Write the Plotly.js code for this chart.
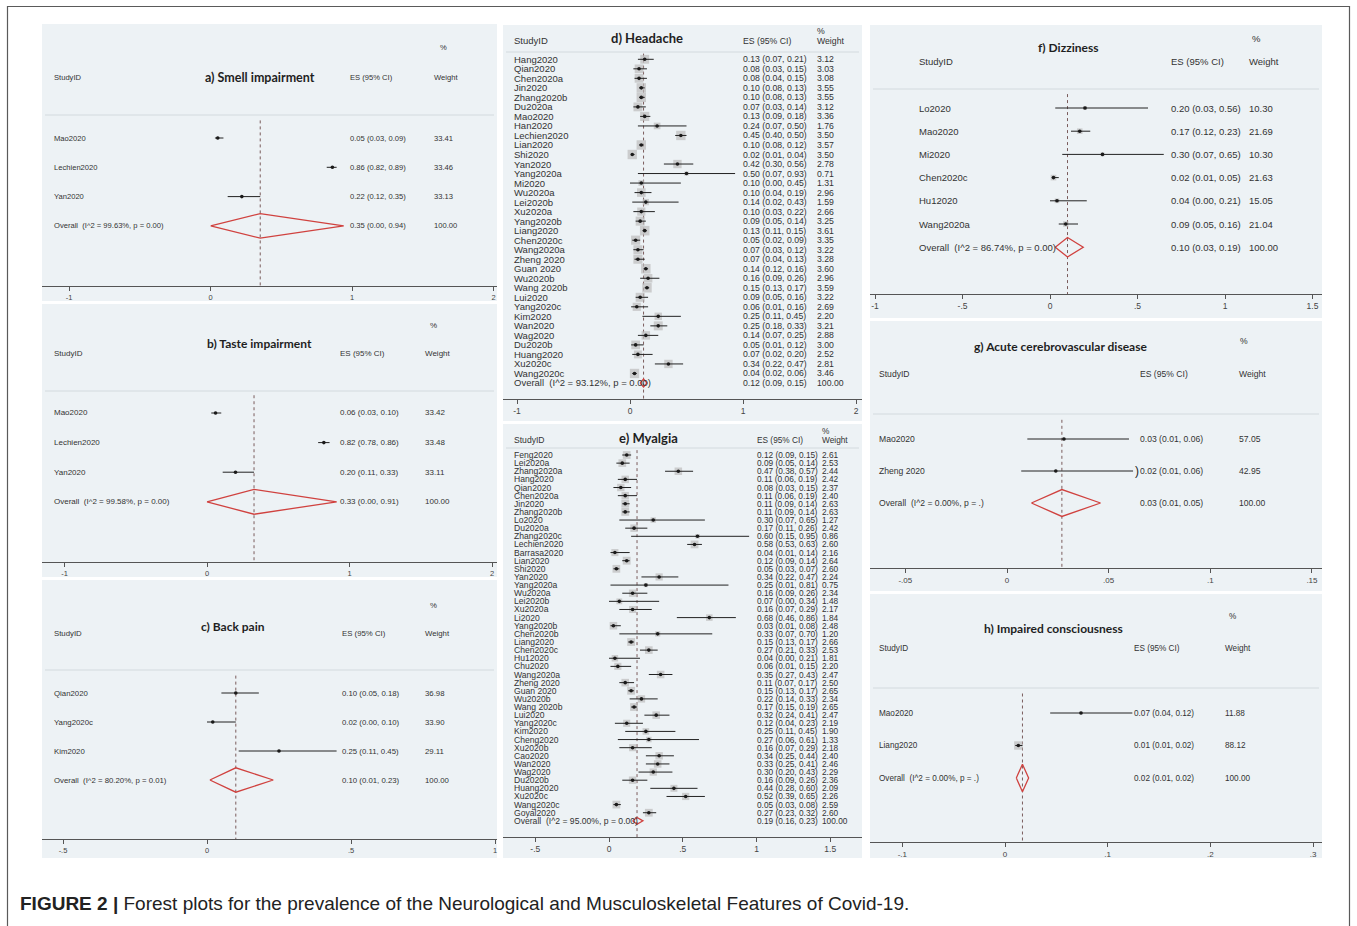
<!DOCTYPE html>
<html>
<head>
<meta charset="utf-8">
<script src="https://cdn.plot.ly/plotly-3.0.1.min.js"></script>
<style>html,body{margin:0;padding:0;background:#fff;}#chart{width:1357px;height:926px;}</style>
</head>
<body>
<div id="chart"></div>
<script>
// ---------------- DATA ----------------
// a) Smell impairment
const smellStudy = ["Mao2020", "Lechien2020", "Yan2020"];
const smellES = [0.05, 0.86, 0.22];
const smellLo = [0.03, 0.82, 0.12];
const smellHi = [0.09, 0.89, 0.35];
const smellWt = [33.41, 33.46, 33.13];
const smellOverall = [0.35, 0.00, 0.94];
const smellI2 = "99.63%", smellP = "0.00";

// b) Taste impairment
const tasteStudy = ["Mao2020", "Lechien2020", "Yan2020"];
const tasteES = [0.06, 0.82, 0.20];
const tasteLo = [0.03, 0.78, 0.11];
const tasteHi = [0.10, 0.86, 0.33];
const tasteWt = [33.42, 33.48, 33.11];
const tasteOverall = [0.33, 0.00, 0.91];
const tasteI2 = "99.58%", tasteP = "0.00";

// c) Back pain
const backStudy = ["Qian2020", "Yang2020c", "Kim2020"];
const backES = [0.10, 0.02, 0.25];
const backLo = [0.05, 0.00, 0.11];
const backHi = [0.18, 0.10, 0.45];
const backWt = [36.98, 33.90, 29.11];
const backOverall = [0.10, 0.01, 0.23];
const backI2 = "80.20%", backP = "0.01";

// d) Headache
const headStudy = ["Hang2020","Qian2020","Chen2020a","Jin2020","Zhang2020b","Du2020a","Mao2020","Han2020","Lechien2020","Lian2020","Shi2020","Yan2020","Yang2020a","Mi2020","Wu2020a","Lei2020b","Xu2020a","Yang2020b","Liang2020","Chen2020c","Wang2020a","Zheng 2020","Guan 2020","Wu2020b","Wang 2020b","Lui2020","Yang2020c","Kim2020","Wan2020","Wag2020","Du2020b","Huang2020","Xu2020c","Wang2020c"];
const headES = [0.13,0.08,0.08,0.10,0.10,0.07,0.13,0.24,0.45,0.10,0.02,0.42,0.50,0.10,0.10,0.14,0.10,0.09,0.13,0.05,0.07,0.07,0.14,0.16,0.15,0.09,0.06,0.25,0.25,0.14,0.05,0.07,0.34,0.04];
const headLo = [0.07,0.03,0.04,0.08,0.08,0.03,0.09,0.07,0.40,0.08,0.01,0.30,0.07,0.00,0.04,0.02,0.03,0.05,0.11,0.02,0.03,0.04,0.12,0.09,0.13,0.05,0.01,0.11,0.18,0.07,0.01,0.02,0.22,0.02];
const headHi = [0.21,0.15,0.15,0.13,0.13,0.14,0.18,0.50,0.50,0.12,0.04,0.56,0.93,0.45,0.19,0.43,0.22,0.14,0.15,0.09,0.12,0.13,0.16,0.26,0.17,0.16,0.16,0.45,0.33,0.25,0.12,0.20,0.47,0.06];
const headWt = [3.12,3.03,3.08,3.55,3.55,3.12,3.36,1.76,3.50,3.57,3.50,2.78,0.71,1.31,2.96,1.59,2.66,3.25,3.61,3.35,3.22,3.28,3.60,2.96,3.59,3.22,2.69,2.20,3.21,2.88,3.00,2.52,2.81,3.46];
const headOverall = [0.12, 0.09, 0.15];
const headI2 = "93.12%", headP = "0.00";

// e) Myalgia
const myalStudy = ["Feng2020","Lei2020a","Zhang2020a","Hang2020","Qian2020","Chen2020a","Jin2020","Zhang2020b","Lo2020","Du2020a","Zhang2020c","Lechien2020","Barrasa2020","Lian2020","Shi2020","Yan2020","Yang2020a","Wu2020a","Lei2020b","Xu2020a","Li2020","Yang2020b","Chen2020b","Liang2020","Chen2020c","Hu12020","Chu2020","Wang2020a","Zheng 2020","Guan 2020","Wu2020b","Wang 2020b","Lui2020","Yang2020c","Kim2020","Cheng2020","Xu2020b","Cao2020","Wan2020","Wag2020","Du2020b","Huang2020","Xu2020c","Wang2020c","Goyal2020"];
const myalES = [0.12,0.09,0.47,0.11,0.08,0.11,0.11,0.11,0.30,0.17,0.60,0.58,0.04,0.12,0.05,0.34,0.25,0.16,0.07,0.16,0.68,0.03,0.33,0.15,0.27,0.04,0.06,0.35,0.11,0.15,0.22,0.17,0.32,0.12,0.25,0.27,0.16,0.34,0.33,0.30,0.16,0.44,0.52,0.05,0.27];
const myalLo = [0.09,0.05,0.38,0.06,0.03,0.06,0.09,0.09,0.07,0.11,0.15,0.53,0.01,0.09,0.03,0.22,0.01,0.09,0.00,0.07,0.46,0.01,0.07,0.13,0.21,0.00,0.01,0.27,0.07,0.13,0.14,0.15,0.24,0.04,0.11,0.06,0.07,0.25,0.25,0.20,0.09,0.28,0.39,0.03,0.23];
const myalHi = [0.15,0.14,0.57,0.19,0.15,0.19,0.14,0.14,0.65,0.26,0.95,0.63,0.14,0.14,0.07,0.47,0.81,0.26,0.34,0.29,0.86,0.08,0.70,0.17,0.33,0.21,0.15,0.43,0.17,0.17,0.33,0.19,0.41,0.23,0.45,0.61,0.29,0.44,0.41,0.43,0.26,0.60,0.65,0.08,0.32];
const myalWt = [2.61,2.53,2.44,2.42,2.37,2.40,2.63,2.63,1.27,2.42,0.86,2.60,2.16,2.64,2.60,2.24,0.75,2.34,1.48,2.17,1.84,2.48,1.20,2.66,2.53,1.81,2.20,2.47,2.50,2.65,2.34,2.65,2.47,2.19,1.90,1.33,2.18,2.40,2.46,2.29,2.36,2.09,2.26,2.59,2.60];
const myalOverall = [0.19, 0.16, 0.23];
const myalI2 = "95.00%", myalP = "0.00";

// f) Dizziness
const dizzStudy = ["Lo2020", "Mao2020", "Mi2020", "Chen2020c", "Hu12020", "Wang2020a"];
const dizzES = [0.20, 0.17, 0.30, 0.02, 0.04, 0.09];
const dizzLo = [0.03, 0.12, 0.07, 0.01, 0.00, 0.05];
const dizzHi = [0.56, 0.23, 0.65, 0.05, 0.21, 0.16];
const dizzWt = [10.30, 21.69, 10.30, 21.63, 15.05, 21.04];
const dizzOverall = [0.10, 0.03, 0.19];
const dizzI2 = "86.74%", dizzP = "0.00";

// g) Acute cerebrovascular disease
const cereStudy = ["Mao2020", "Zheng 2020"];
const cereES = [0.028, 0.024];
const cereLo = [0.010, 0.007];
const cereHi = [0.060, 0.062];
const cereWt = [57.05, 42.95];
const cereOverall = [0.027, 0.012, 0.046];
const cereI2 = "0.00%", cereP = ".";

// h) Impaired consciousness
const consStudy = ["Mao2020", "Liang2020"];
const consES = [0.074, 0.013];
const consLo = [0.044, 0.010];
const consHi = [0.124, 0.017];
const consWt = [11.88, 88.12];
const consOverall = [0.017, 0.011, 0.023];
const consI2 = "0.00%", consP = ".";

// tick values / labels
const ticksA = [-1, 0, 1, 2], ticksAText = ["-1", "0", "1", "2"];
const ticksC = [-0.5, 0, 0.5, 1], ticksCText = ["-.5", "0", ".5", "1"];
const ticksE = [-0.5, 0, 0.5, 1, 1.5], ticksEText = ["-.5", "0", ".5", "1", "1.5"];
const ticksF = [-1, -0.5, 0, 0.5, 1, 1.5], ticksFText = ["-1", "-.5", "0", ".5", "1", "1.5"];
const ticksG = [-0.05, 0, 0.05, 0.1, 0.15], ticksGText = ["-.05", "0", ".05", ".1", ".15"];
const ticksH = [-0.1, 0, 0.1, 0.2, 0.3], ticksHText = ["-.1", "0", ".1", ".2", ".3"];

const captionBold = "FIGURE 2 |";
const captionText = "Forest plots for the prevalence of the Neurological and Musculoskeletal Features of Covid-19.";

// ---------------- LAYOUT / STYLE ----------------
const W = 1357, H = 926;
const FONT = "Liberation Sans, Arial, sans-serif";
const TFONT = "Lato, Open Sans, sans-serif";
const BG = "#edf2f5";
const TXT = "#333333";

const panels = [
  {study: smellStudy, es: smellES, lo: smellLo, hi: smellHi, wt: smellWt, ov: smellOverall, i2: smellI2, p: smellP,
   title: "a) Smell impairment", ticks: ticksA, tickText: ticksAText,
   bg: [42, 497, 24, 301], axisY: 286, r0: 138, s: 29.3, zero: 210.7, ppu: 141.5,
   titleXY: [260, 78], studyY: 78, pctY: 48, sepY: 115, cols: [52, 348, 432, 438],
   fs: 7.6, fsEs: 7.6, tfs: 12.5, tickFs: 7.5, boxK: 0.45},
  {study: tasteStudy, es: tasteES, lo: tasteLo, hi: tasteHi, wt: tasteWt, ov: tasteOverall, i2: tasteI2, p: tasteP,
   title: "b) Taste impairment", ticks: ticksA, tickText: ticksAText,
   bg: [42, 497, 304, 577], axisY: 562, r0: 413, s: 29.6, zero: 207, ppu: 142.5,
   titleXY: [259, 343], studyY: 353, pctY: 325, sepY: 391, cols: [52, 338, 423, 428],
   fs: 8, fsEs: 8, tfs: 12, tickFs: 7.5, boxK: 0.45},
  {study: backStudy, es: backES, lo: backLo, hi: backHi, wt: backWt, ov: backOverall, i2: backI2, p: backP,
   title: "c) Back pain", ticks: ticksC, tickText: ticksCText,
   bg: [42, 497, 580, 858], axisY: 839, r0: 693, s: 29, zero: 207, ppu: 288,
   titleXY: [233, 626], studyY: 633, pctY: 605, sepY: 670, cols: [52, 340, 423, 428],
   fs: 7.8, fsEs: 7.8, tfs: 12, tickFs: 7.5, boxK: 0.45},
  {study: headStudy, es: headES, lo: headLo, hi: headHi, wt: headWt, ov: headOverall, i2: headI2, p: headP,
   title: "d) Headache", ticks: ticksA, tickText: ticksAText,
   bg: [503, 862, 25, 421], axisY: 399, r0: 59.3, s: 9.52, zero: 630, ppu: 113,
   titleXY: [647, 38], studyY: 41, pctY: 31, sepY: 52, cols: [512, 741, 815, 815],
   fs: 9.5, fsEs: 8.7, tfs: 13, tickFs: 8.5, boxK: 5},
  {study: myalStudy, es: myalES, lo: myalLo, hi: myalHi, wt: myalWt, ov: myalOverall, i2: myalI2, p: myalP,
   title: "e) Myalgia", ticks: ticksE, tickText: ticksEText,
   bg: [503, 862, 424, 858], axisY: 837, r0: 455, s: 8.13, zero: 609, ppu: 147.5,
   titleXY: [648, 438], studyY: 440, pctY: 431, sepY: 448, cols: [512, 755, 820, 820],
   fs: 8.6, fsEs: 8.3, tfs: 13, tickFs: 8.5, boxK: 4.8},
  {study: dizzStudy, es: dizzES, lo: dizzLo, hi: dizzHi, wt: dizzWt, ov: dizzOverall, i2: dizzI2, p: dizzP,
   title: "f) Dizziness", ticks: ticksF, tickText: ticksFText,
   bg: [870, 1322, 25, 318], axisY: 294, r0: 108, s: 23.2, zero: 1050, ppu: 175,
   titleXY: [1068, 47], studyY: 61, pctY: 38, sepY: 89, cols: [917, 1169, 1247, 1250],
   fs: 9.5, fsEs: 9.5, tfs: 12, tickFs: 8.5, boxK: 1.2},
  {study: cereStudy, es: cereES, lo: cereLo, hi: cereHi, wt: cereWt, ov: cereOverall, i2: cereI2, p: cereP,
   title: "g) Acute cerebrovascular disease", ticks: ticksG, tickText: ticksGText,
   bg: [870, 1322, 321, 591], axisY: 568, r0: 439, s: 32, zero: 1007, ppu: 2033,
   titleXY: [1060, 346], studyY: 374, pctY: 341, sepY: 414, cols: [877, 1138, 1237, 1238],
   fs: 8.6, fsEs: 8.6, tfs: 12, tickFs: 8, boxK: 0.4},
  {study: consStudy, es: consES, lo: consLo, hi: consHi, wt: consWt, ov: consOverall, i2: consI2, p: consP,
   title: "h) Impaired consciousness", ticks: ticksH, tickText: ticksHText,
   bg: [870, 1322, 594, 858], axisY: 842, r0: 713, s: 32.5, zero: 1005, ppu: 1027,
   titleXY: [1053, 628], studyY: 648, pctY: 616, sepY: 688, cols: [877, 1132, 1223, 1227],
   fs: 8.2, fsEs: 8.2, tfs: 12, tickFs: 8, boxK: 0.9}
];

const px = v => v / W;
const py = v => 1 - v / H;
const f2 = v => v.toFixed(2);
const ciText = (e, l, h) => f2(e) + " (" + f2(l) + ", " + f2(h) + ")";

const traces = [];
const shapes = [];
const annotations = [];
const layout = {
  width: W, height: H, margin: {l: 0, r: 0, t: 0, b: 0, pad: 0},
  paper_bgcolor: "#ffffff", plot_bgcolor: "rgba(0,0,0,0)", showlegend: false,
  font: {family: FONT, color: TXT}
};

// outer frame
shapes.push({type: "rect", xref: "paper", yref: "paper", x0: px(7.5), x1: px(1349.5), y0: -0.02, y1: py(6.5),
  line: {color: "#5a5a5a", width: 1.2}, fillcolor: "rgba(0,0,0,0)", layer: "below"});

panels.forEach((p, k) => {
  const n = k + 1;
  const xs = n === 1 ? "x" : "x" + n;
  const ys = n === 1 ? "y" : "y" + n;
  const xk = n === 1 ? "xaxis" : "xaxis" + n;
  const yk = n === 1 ? "yaxis" : "yaxis" + n;
  const [L, R, T, B] = p.bg;
  const yBottom = (p.axisY - p.r0) / p.s;
  const yTop = (T - p.r0) / p.s;
  const ovRow = p.study.length;

  shapes.push({type: "rect", xref: "paper", yref: "paper", x0: px(L), x1: px(R), y0: py(B), y1: py(T),
    fillcolor: BG, line: {width: 0}, layer: "below"});
  shapes.push({type: "line", xref: "paper", yref: "paper", x0: px(L + 3), x1: px(R - 3), y0: py(p.sepY), y1: py(p.sepY),
    line: {color: "#d3dade", width: 1}, layer: "below"});

  layout[xk] = {
    domain: [px(L), px(R)], range: [(L - p.zero) / p.ppu, (R - p.zero) / p.ppu], anchor: ys,
    showline: true, linecolor: "#555", linewidth: 1, ticks: "outside", ticklen: 4, tickcolor: "#555",
    tickvals: p.ticks, ticktext: p.tickText, tickfont: {size: p.tickFs, color: "#444", family: FONT},
    showgrid: false, zeroline: false, fixedrange: true
  };
  layout[yk] = {
    domain: [py(p.axisY), py(T)], range: [yBottom, yTop], anchor: xs,
    visible: false, showgrid: false, zeroline: false, fixedrange: true
  };

  const idx = p.study.map((_, i) => i);

  // reference line at overall estimate
  traces.push({type: "scatter", mode: "lines", xaxis: xs, yaxis: ys,
    x: [p.ov[0], p.ov[0]], y: [-0.6, yBottom], line: {color: "#7a5c5c", width: 1, dash: "dot"}, hoverinfo: "skip"});
  // weight boxes
  traces.push({type: "scatter", mode: "markers", xaxis: xs, yaxis: ys, x: p.es, y: idx,
    marker: {symbol: "square", size: p.wt.map(w => p.boxK * Math.sqrt(w)), color: "#bcbcbc", line: {width: 0}}, hoverinfo: "skip"});
  // point estimates with CI
  traces.push({type: "scatter", mode: "markers", xaxis: xs, yaxis: ys, x: p.es, y: idx,
    marker: {symbol: "circle", size: 3.6, color: "#1a1a1a"},
    error_x: {type: "data", symmetric: false, array: p.es.map((e, i) => p.hi[i] - e), arrayminus: p.es.map((e, i) => e - p.lo[i]),
      width: 0, thickness: 1, color: "#222"}, hoverinfo: "skip"});
  // overall diamond
  const hh = 0.42;
  traces.push({type: "scatter", mode: "lines", xaxis: xs, yaxis: ys,
    x: [p.ov[1], p.ov[0], p.ov[2], p.ov[0], p.ov[1]],
    y: [ovRow, ovRow - hh, ovRow, ovRow + hh, ovRow],
    line: {color: "#d0423f", width: 1.3}, hoverinfo: "skip"});

  // title
  annotations.push({xref: "paper", yref: "paper", x: px(p.titleXY[0]), y: py(p.titleXY[1]), xanchor: "center", yanchor: "middle",
    text: "<b>" + p.title + "</b>", showarrow: false, font: {family: TFONT, size: p.tfs, color: "#1f1f1f"}});
  // headers
  const hdr = (t, x, y, size) => annotations.push({xref: "paper", yref: "paper", x: px(x), y: py(y), xanchor: "left", yanchor: "middle",
    text: t, showarrow: false, font: {family: FONT, size: size, color: TXT}});
  hdr("StudyID", p.cols[0], p.studyY, p.fs);
  hdr("ES (95% CI)", p.cols[1], p.studyY, p.fsEs);
  hdr("%", p.cols[3], p.pctY, p.fsEs);
  hdr("Weight", p.cols[2], p.studyY, p.fsEs);

  // rows
  const row = (t, x, y, size) => annotations.push({xref: "paper", yref: ys, x: px(x), y: y, xanchor: "left", yanchor: "middle",
    text: t, showarrow: false, font: {family: FONT, size: size, color: TXT}});
  p.study.forEach((s, i) => {
    row(s, p.cols[0], i, p.fs);
    row(ciText(p.es[i], p.lo[i], p.hi[i]), p.cols[1], i, p.fsEs);
    row(f2(p.wt[i]), p.cols[2], i, p.fsEs);
  });
  row("Overall  (I^2 = " + p.i2 + ", p = " + p.p + ")", p.cols[0], ovRow, p.fs);
  row(ciText(p.ov[0], p.ov[1], p.ov[2]), p.cols[1], ovRow, p.fsEs);
  row("100.00", p.cols[2], ovRow, p.fsEs);

  if (n === 7) {
    // bracket drawn at the upper end of the Zheng 2020 interval
    annotations.push({xref: xs, yref: ys, x: p.hi[1], y: 1, xanchor: "left", yanchor: "middle", text: ")", showarrow: false,
      font: {family: FONT, size: 12, color: "#222"}});
  }
});

// caption
annotations.push({xref: "paper", yref: "paper", x: px(18), y: py(903), xanchor: "left", yanchor: "middle",
  text: "<b>" + captionBold + "</b> " + captionText, showarrow: false,
  font: {family: "Liberation Sans, Arial, sans-serif", size: 19, color: "#222"}});

layout.shapes = shapes;
layout.annotations = annotations;

Plotly.newPlot("chart", traces, layout, {displayModeBar: false, staticPlot: true});
</script>
</body>
</html>
